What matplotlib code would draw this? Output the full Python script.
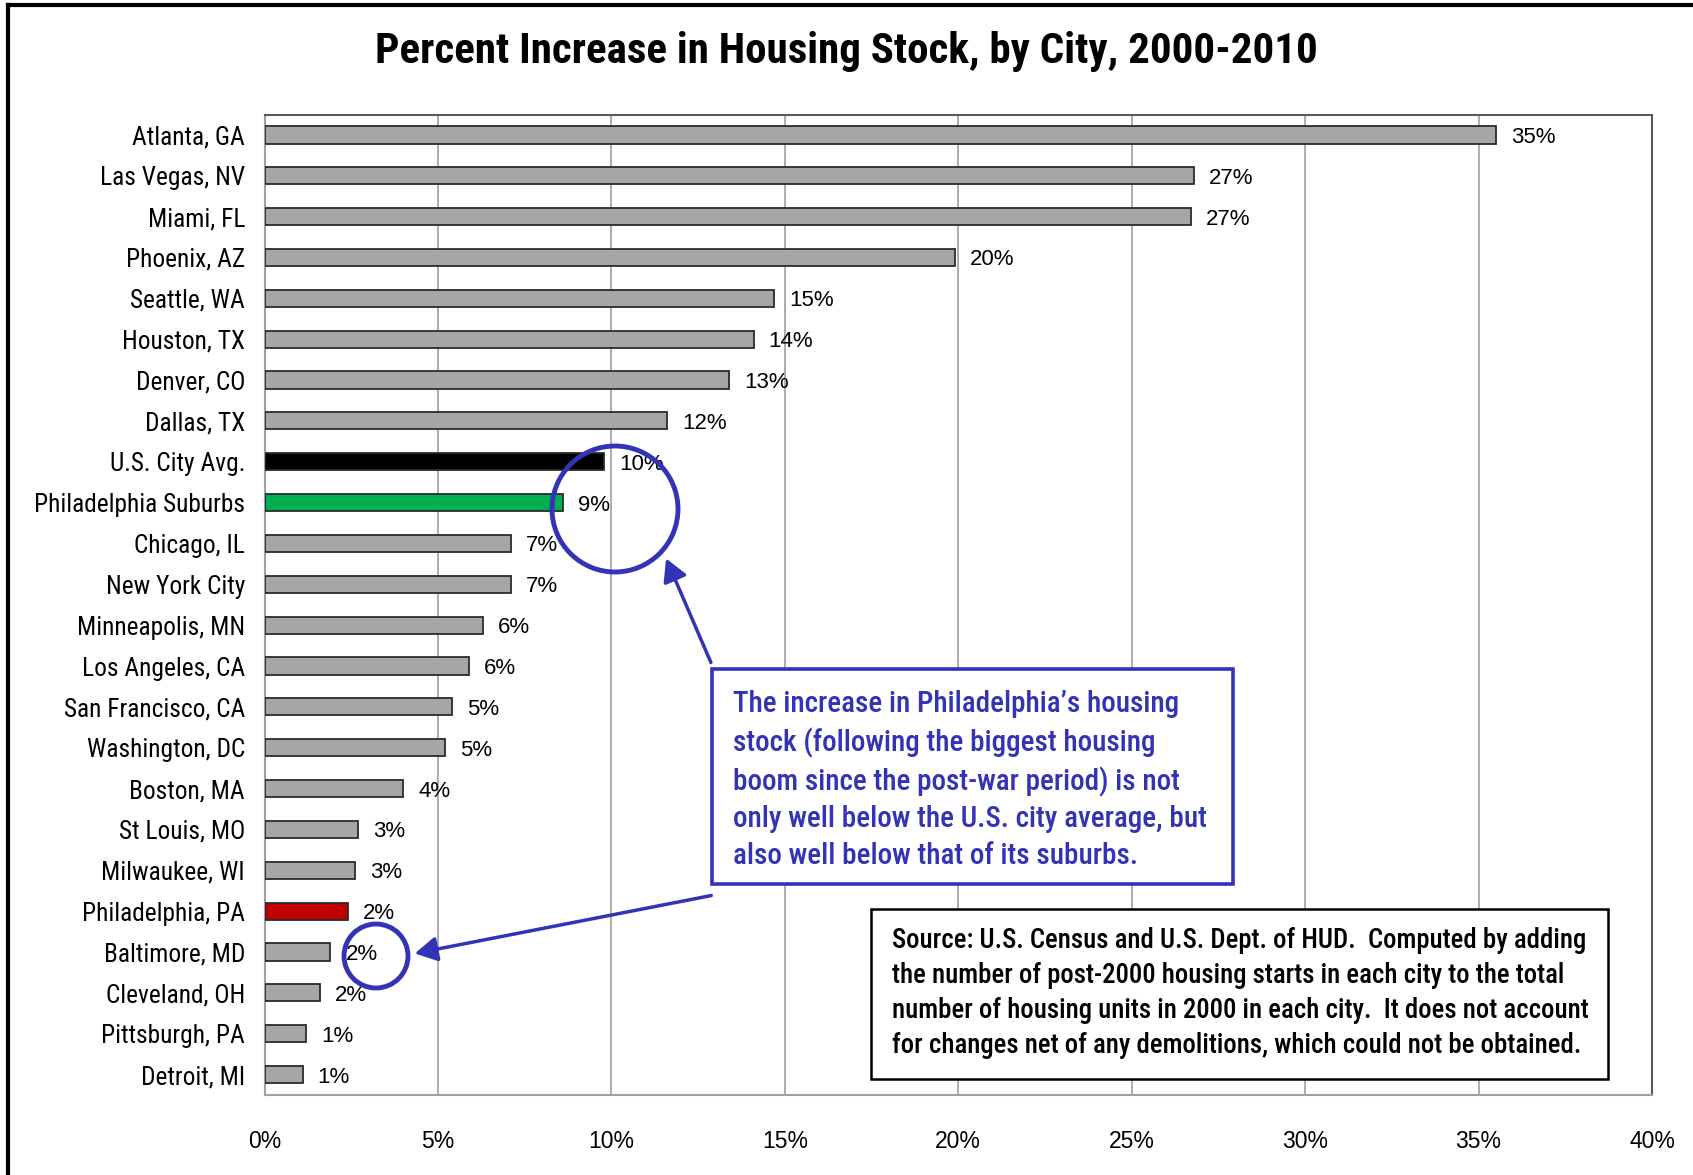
import matplotlib
matplotlib.use("Agg")
import matplotlib.pyplot as plt
from matplotlib import font_manager
from matplotlib.patches import Ellipse, Rectangle, FancyArrowPatch
from matplotlib.lines import Line2D

# ---------------- data ----------------
cities = ["Atlanta, GA", "Las Vegas, NV", "Miami, FL", "Phoenix, AZ", "Seattle, WA",
          "Houston, TX", "Denver, CO", "Dallas, TX", "U.S. City Avg.", "Philadelphia Suburbs",
          "Chicago, IL", "New York City", "Minneapolis, MN", "Los Angeles, CA",
          "San Francisco, CA", "Washington, DC", "Boston, MA", "St Louis, MO",
          "Milwaukee, WI", "Philadelphia, PA", "Baltimore, MD", "Cleveland, OH",
          "Pittsburgh, PA", "Detroit, MI"]
values = [35.5, 26.8, 26.7, 19.9, 14.7, 14.1, 13.4, 11.6, 9.8, 8.6, 7.1, 7.1, 6.3, 5.9,
          5.4, 5.2, 4.0, 2.7, 2.6, 2.4, 1.9, 1.6, 1.2, 1.1]
value_labels = ["35%", "27%", "27%", "20%", "15%", "14%", "13%", "12%", "10%", "9%", "7%",
                "7%", "6%", "6%", "5%", "5%", "4%", "3%", "3%", "2%", "2%", "2%", "1%", "1%"]
x_ticks = [0, 5, 10, 15, 20, 25, 30, 35, 40]
x_tick_labels = ["0%", "5%", "10%", "15%", "20%", "25%", "30%", "35%", "40%"]
highlight_colors = {"U.S. City Avg.": "#000000", "Philadelphia Suburbs": "#00b050",
                    "Philadelphia, PA": "#c00000"}

title = "Percent Increase in Housing Stock, by City, 2000-2010"
note_text = ("The increase in Philadelphia\u2019s housing\n"
             "stock (following the biggest housing\n"
             "boom since the post-war period) is not\n"
             "only well below the U.S. city average, but\n"
             "also well below that of its suburbs.")
source_text = ("Source: U.S. Census and U.S. Dept. of HUD.  Computed by adding\n"
               "the number of post-2000 housing starts in each city to the total\n"
               "number of housing units in 2000 in each city.  It does not account\n"
               "for changes net of any demolitions, which could not be obtained.")

# ---------------- fonts ----------------
WEIGHT_NUM = {"ultralight": 200, "light": 300, "normal": 400, "regular": 400, "book": 400,
              "medium": 500, "roman": 400, "semibold": 600, "demibold": 600, "demi": 600,
              "bold": 700, "heavy": 800, "extra bold": 800, "black": 900}

def find_condensed(target):
    best = None
    for f in font_manager.fontManager.ttflist:
        name = f.name
        cond = ("Narrow" in name or "Condensed" in name or "Condensed" in f.fname
                or "Narrow" in f.fname)
        if not cond:
            continue
        if "Italic" in f.fname or "Oblique" in f.fname or f.style != "normal":
            continue
        w = f.weight if isinstance(f.weight, int) else WEIGHT_NUM.get(str(f.weight).lower(), 400)
        fam = 3 if "Roboto" in name else (2 if "Liberation" in name else 1)
        score = (-abs(w - target), fam)
        if best is None or score > best[0]:
            best = (score, f.fname)
    return best[1] if best else None

def fp(size, weight=400):
    path = find_condensed(weight)
    if path:
        return font_manager.FontProperties(fname=path, size=size)
    return font_manager.FontProperties(family="Liberation Sans", size=size,
                                       weight=weight)

W, H = 1693, 1175
fig = plt.figure(figsize=(W / 100, H / 100), dpi=100)

def px(x, y):
    return (x / W, 1 - y / H)

ax = fig.add_axes([264.5 / W, 1 - 1095 / H, (1652 - 264.5) / W, (1095 - 114.5) / H])

ypos = list(range(len(cities)))
colors = [highlight_colors.get(c, "#a6a6a6") for c in cities]
ax.barh(ypos, values, height=0.42, color=colors, edgecolor="#2b2b2b", linewidth=1.3, zorder=3)
ax.set_ylim(len(cities) - 0.5, -0.5)
ax.set_xlim(0, 40)
ax.set_xticks(x_ticks)
ax.set_xticklabels(x_tick_labels, family="Liberation Sans", fontsize=16.5)
ax.set_yticks(ypos)
ax.set_yticklabels(cities, fontproperties=fp(18.3))
ax.tick_params(axis="both", length=0)
ax.tick_params(axis="x", pad=25)
ax.tick_params(axis="y", pad=14)
ax.grid(axis="x", color="#a6a6a6", linewidth=1.3, zorder=0)
for k, s in ax.spines.items():
    s.set_color("#5a5a5a" if k in ("top", "right") else "#a0a0a0")
    s.set_linewidth(1.5)

for y, v, lab in zip(ypos, values, value_labels):
    ax.annotate(lab, (v, y), xytext=(15, 0), textcoords="offset pixels",
                va="center_baseline", ha="left", family="Liberation Sans", fontsize=16,
                zorder=5)

fig.text(*px(846, 52), title, ha="center", va="center", fontproperties=fp(31, 700))

blue = "#3333b8"
# note box
fig.patches.append(Rectangle(px(711.5, 884), (1233 - 711.5) / W, (884 - 669) / H,
                             transform=fig.transFigure, facecolor="white", edgecolor=blue,
                             linewidth=2.6, zorder=6))
fig.text(*px(733, 780), note_text, ha="left", va="center", color=blue,
         fontproperties=fp(21, 500), linespacing=1.38, zorder=7)
# source box
fig.patches.append(Rectangle(px(871, 1079), (1608 - 871) / W, (1079 - 909) / H,
                             transform=fig.transFigure, facecolor="white", edgecolor="black",
                             linewidth=1.8, zorder=6))
fig.text(*px(892, 993), source_text, ha="left", va="center", color="black",
         fontproperties=fp(19.3, 500), linespacing=1.38, zorder=7)

# circles
fig.patches.append(Ellipse(px(615, 509), 126 / W, 126 / H, transform=fig.transFigure,
                           fill=False, edgecolor=blue, linewidth=3.5, zorder=8))
fig.patches.append(Ellipse(px(376, 956), 64 / W, 64 / H, transform=fig.transFigure,
                           fill=False, edgecolor=blue, linewidth=3.5, zorder=8))
# arrows
for start, end in [((712, 665), (665, 556)), ((714, 895), (412, 954))]:
    fig.patches.append(FancyArrowPatch(px(*start), px(*end), transform=fig.transFigure,
                                       arrowstyle="-|>,head_length=9,head_width=5",
                                       color=blue, linewidth=2.5, mutation_scale=1.5,
                                       zorder=8))

# outer frame (top and left edges visible)
fig.lines.append(Line2D([8 / W, 1], [1 - 5 / H, 1 - 5 / H], transform=fig.transFigure,
                        color="black", linewidth=3, zorder=10))
fig.lines.append(Line2D([8 / W, 8 / W], [0, 1 - 5 / H], transform=fig.transFigure,
                        color="black", linewidth=3, zorder=10))

fig.savefig("out.png", dpi=100)
